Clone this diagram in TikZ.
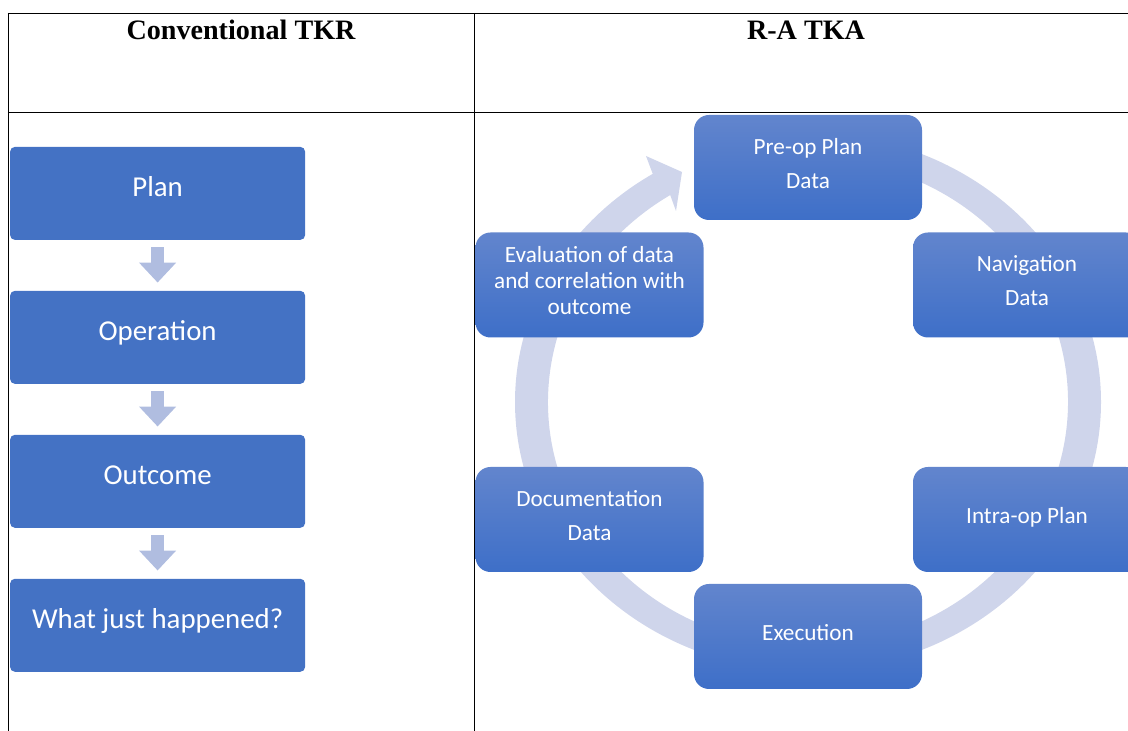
\documentclass[tikz,border=0pt]{standalone}
\usepackage{fontspec}
\setmainfont{Liberation Serif}
\newfontfamily\boxfont{Carlito}
\usetikzlibrary{positioning,arrows.meta,calc}

\definecolor{boxblue}{RGB}{68,114,196}
\definecolor{cyctop}{RGB}{98,133,205}
\definecolor{cycbot}{RGB}{62,111,200}
\definecolor{arrowblue}{RGB}{176,189,224}
\definecolor{ringblue}{RGB}{207,213,235}

\tikzset{
  header/.style={font=\bfseries\fontsize{20}{24}\selectfont},
  flowbox/.style={rectangle, rounded corners=0.12cm, fill=boxblue, text=white,
    minimum width=7.375cm, minimum height=2.325cm, text height=14pt, text depth=10pt,
    font=\boxfont\fontsize{20.5}{24}\selectfont},
  cycbox/.style={rectangle, rounded corners=0.375cm, top color=cyctop, bottom color=cycbot,
    text=white, minimum width=5.7cm, minimum height=2.625cm, align=center, text depth=6pt,
    font=\boxfont\fontsize{16.5}{24}\selectfont},
  downarrow/.style={draw=arrowblue, line width=0.33cm,
    -{Triangle[width=0.9cm,length=0.5cm]}, shorten <=0.175cm, shorten >=0.2cm}
}

\begin{document}
\begin{tikzpicture}
  \clip (0,0) rectangle (28.2,18.275);
  % table rules
  \draw[line width=0.6pt] (0.2,17.95) -- (28.2,17.95);
  \draw[line width=0.6pt] (0.2,15.475) -- (28.2,15.475);
  \draw[line width=0.6pt] (0.2,17.95) -- (0.2,0);
  \draw[line width=0.6pt] (11.85,17.95) -- (11.85,0);
  \node[header] (convhead) at (6.025,17.525) {Conventional TKR};
  \node[header] (rahead) at (20.15,17.525) {R-A TKA};

  % conventional chain
  \node[flowbox] (plan) at (3.94,13.44) {Plan};
  \node[flowbox, below=1.26cm of plan] (operation) {Operation};
  \node[flowbox, below=1.26cm of operation] (outcome) {Outcome};
  \node[flowbox, below=1.26cm of outcome] (happened) {What just happened?};
  \foreach \a/\b in {plan/operation, operation/outcome, outcome/happened}
    \draw[downarrow] (\a) -- (\b);

  % robotic cycle
  \coordinate (hub) at (20.2,8.225);
  \fill[ringblue] ($(hub)+(90:7.325 and 6.725)$)
      arc[start angle=90, end angle=-238, x radius=7.325, y radius=6.725]
    -- ($(hub)+(-4.05,6.15)$) -- ($(hub)+(-3.15,5.75)$) -- ($(hub)+(-3.3,4.775)$)
    -- ($(hub)+(122:6.5 and 6.1)$)
      arc[start angle=-238, end angle=90, x radius=6.5, y radius=6.1] -- cycle;

  \node[cycbox] (preop) at (20.2,14.0875) {Pre-op Plan\\Data};
  \node[cycbox] (navigation) at (25.675,11.15) {Navigation\\Data};
  \node[cycbox] (intraop) at (25.675,5.2875) {Intra-op Plan};
  \node[cycbox] (execution) at (20.2,2.3625) {Execution};
  \node[cycbox] (documentation) at (14.7375,5.2875) {Documentation\\Data};
  \node[cycbox, font=\boxfont\fontsize{16.5}{18.5}\selectfont] (evaluation)
    at (14.7375,11.15) {Evaluation of data\\and correlation with\\outcome};
\end{tikzpicture}
\end{document}
